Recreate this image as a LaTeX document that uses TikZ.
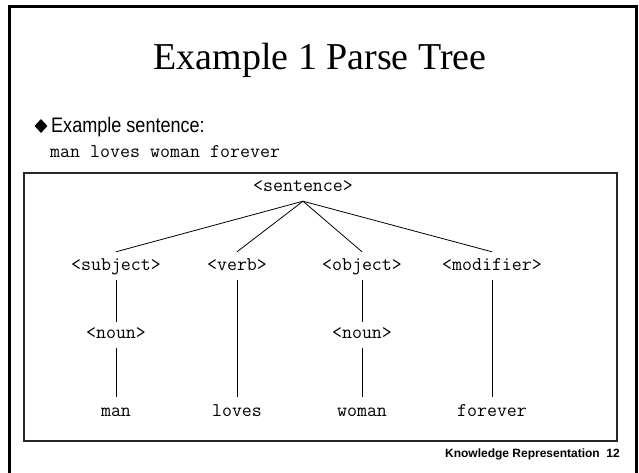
\documentclass[tikz,border=0pt]{standalone}
\usepackage{fontspec}
\setmainfont{Liberation Serif}
\setsansfont{Liberation Sans}
\newfontfamily\narrowsans[FakeStretch=0.86]{Liberation Sans}
\usetikzlibrary{shapes.geometric}

\begin{document}
\begin{tikzpicture}[x=1pt,y=-1pt,
  treetext/.style={font=\fontsize{19.4}{20}\ttfamily, inner xsep=0pt,
                   inner ysep=5.5pt, text height=11pt, text depth=4pt},
  edge/.style={line width=0.8pt, black}]
  \useasboundingbox (0,0) rectangle (639,473);

  % slide frame (open at the bottom)
  \draw[line width=3pt] (9.7,473) -- (9.7,7) -- (636,7) -- (636,473);

  % title
  \node[anchor=base, inner sep=0pt, font=\fontsize{38}{40}\selectfont]
    (title) at (320,70) {Example 1 Parse Tree};

  % bullet and example sentence
  \node[diamond, fill=black, inner sep=0pt, minimum width=13pt,
        minimum height=14pt] (bullet) at (41,126) {};
  \node[anchor=base west, inner sep=0pt,
        font=\fontsize{21}{23}\narrowsans] (intro) at (51,133) {Example sentence:};
  \node[anchor=base west, inner sep=0pt,
        font=\fontsize{19.4}{21}\ttfamily] (sent) at (50,158) {man loves woman forever};

  % box around the parse tree
  \draw[line width=1.2pt, black!85] (24,173) rectangle (617,441);

  % parse tree
  \node[treetext] (s)    at (303,188) {<sentence>};
  \node[treetext] (subj) at (116,267) {<subject>};
  \node[treetext] (verb) at (237,267) {<verb>};
  \node[treetext] (obj)  at (362,267) {<object>};
  \node[treetext] (mod)  at (492,267) {<modifier>};
  \node[treetext] (n1)   at (116,335) {<noun>};
  \node[treetext] (n2)   at (362,335) {<noun>};
  \node[treetext] (man)  at (116,413) {man};
  \node[treetext] (loves) at (237,413) {loves};
  \node[treetext] (woman) at (362,413) {woman};
  \node[treetext] (forever) at (492,413) {forever};

  \draw[edge] (s.south) -- ([yshift=2pt]subj.north);
  \draw[edge] (s.south) -- ([yshift=2pt]verb.north);
  \draw[edge] (s.south) -- ([yshift=2pt]obj.north);
  \draw[edge] (s.south) -- ([yshift=2pt]mod.north);
  \draw[edge] (subj.south) -- (n1.north);
  \draw[edge] (obj.south) -- (n2.north);
  \draw[edge] (n1.south) -- ([yshift=3pt]man.north);
  \draw[edge] (n2.south) -- ([yshift=3pt]woman.north);
  \draw[edge] (verb.south) -- ([yshift=3pt]loves.north);
  \draw[edge] (mod.south) -- ([yshift=3pt]forever.north);

  % footer
  \node[anchor=base east, inner sep=0pt,
        font=\fontsize{12}{14}\sffamily\bfseries] (foot) at (620,457)
    {Knowledge Representation\ \ 12};
\end{tikzpicture}
\end{document}
